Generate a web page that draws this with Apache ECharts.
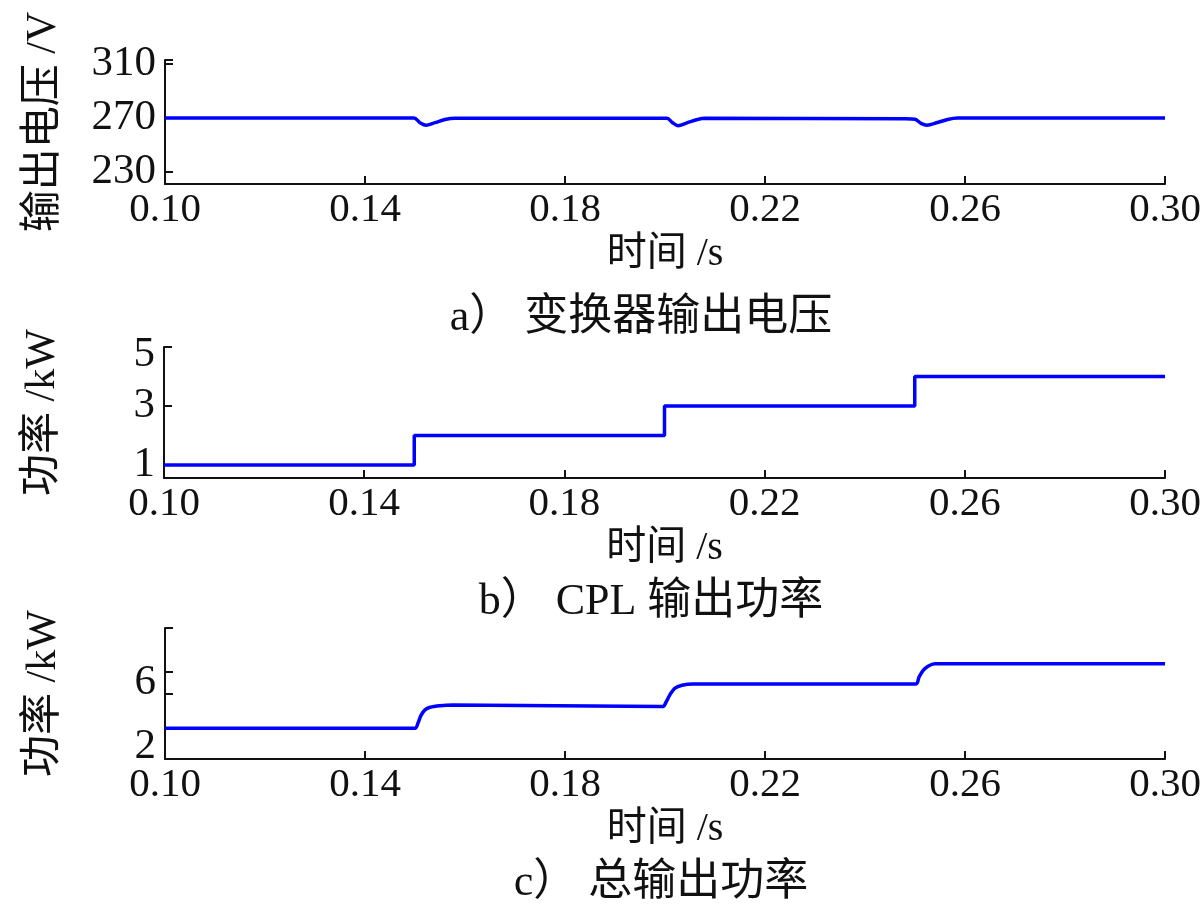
<!DOCTYPE html>
<html>
<head>
<meta charset="utf-8">
<script src="https://cdn.jsdelivr.net/npm/echarts@6/dist/echarts.min.js"></script>
<style>
html,body{margin:0;padding:0;background:#fff;}
#chart{width:1200px;height:918px;}
</style>
</head>
<body>
<div id="chart"></div>
<script>
// ---- data ----
const xTicks = [0.10, 0.14, 0.18, 0.22, 0.26, 0.30];

// a) converter output voltage (V)
const tA = [0.10, 0.1498, 0.1510, 0.1522, 0.1540, 0.1560, 0.1580, 0.2004, 0.2015, 0.2026, 0.2045, 0.2065, 0.2080, 0.2480, 0.2500, 0.2512, 0.2524, 0.2545, 0.2565, 0.2585, 0.30];
const vA = [270, 270, 266.5, 264.5, 266.5, 268.8, 269.7, 269.7, 266.5, 264.3, 266.5, 268.8, 269.7, 269.4, 269.0, 266.0, 264.6, 266.6, 268.9, 270.0, 270.0];
const yTicksA = [230, 270, 310];

// b) CPL output power (kW)
const tB = [0.10, 0.15, 0.20, 0.25, 0.30];
const pB = [1, 2, 3, 4, 4];
const yTicksB = [1, 3, 5];

// c) total output power (kW)
const tC = [0.10, 0.1500, 0.1506, 0.1512, 0.1520, 0.1530, 0.1550, 0.1575, 0.1996, 0.2002, 0.2010, 0.2020, 0.2034, 0.2056, 0.2502, 0.2508, 0.2516, 0.2526, 0.2540, 0.30];
const pC = [3.41, 3.41, 3.65, 4.0, 4.25, 4.37, 4.44, 4.47, 4.41, 4.6, 4.95, 5.25, 5.38, 5.44, 5.44, 5.75, 6.05, 6.25, 6.36, 6.36];
const yTicksC = [2, 6];

// ---- chart ----
const serif = "'Liberation Serif','Noto Sans CJK SC',serif";
const black = '#111';
function pairs(t, v){ return t.map((x,i)=>[x, v[i]]); }

function xAxisCfg(gi){
  return {
    type:'value', gridIndex:gi, min:0.10, max:0.30,
    name:'时间 /s', nameLocation:'middle', nameGap:50,
    nameTextStyle:{fontFamily:serif, fontSize:40, color:black},
    axisLine:{show:true, lineStyle:{color:black, width:2}},
    axisTick:{show:true, inside:true, length:8, lineStyle:{color:black, width:2}, customValues:xTicks},
    axisLabel:{fontFamily:serif, fontSize:41, color:black, margin:6, customValues:xTicks,
      formatter:v=>v.toFixed(2)},
    splitLine:{show:false}
  };
}
function yAxisCfg(gi, min, max, name, ticks, labels, rich, fmt){
  return {
    type:'value', gridIndex:gi, min:min, max:max,
    name:name, nameLocation:'middle', nameGap:100, nameRotate:90,
    nameTextStyle:{fontFamily:serif, fontSize:42, color:black},
    axisLine:{show:true, lineStyle:{color:black, width:2}},
    axisTick:{show:true, inside:true, length:8, lineStyle:{color:black, width:2}, customValues:ticks},
    axisLabel:{fontFamily:serif, fontSize:43, color:black, margin:9, customValues:labels,
      formatter:fmt, rich:rich},
    splitLine:{show:false}
  };
}

const labStyle = {fontFamily:serif, fontSize:43, color:black};
const option = {
  backgroundColor:'#fff',
  animation:false,
  grid:[
    {left:165, right:35, top:60, height:124, outerBoundsMode:'none', containLabel:false},
    {left:164, right:35, top:347, height:131, outerBoundsMode:'none', containLabel:false},
    {left:165, right:35, top:628, height:131, outerBoundsMode:'none', containLabel:false}
  ],
  xAxis:[xAxisCfg(0), xAxisCfg(1), xAxisCfg(2)],
  yAxis:[
    yAxisCfg(0, 221, 313, '输出电压 /V', [230,270,310,313], yTicksA, null, v=>String(v)),
    yAxisCfg(1, 0.56, 5, '功率 /kW', [1,3,5], yTicksB,
      {dn:Object.assign({padding:[16,0,0,0]}, labStyle)},
      v=> v===5 ? '{dn|5}' : String(v)),
    yAxisCfg(2, 2, 8, '功率 /kW', [5,6,8], yTicksC,
      {up:Object.assign({padding:[0,0,24,0]}, labStyle), dn:Object.assign({padding:[22,0,0,0]}, labStyle)},
      v=> v===2 ? '{up|2}' : '{dn|6}')
  ],
  series:[
    {type:'line', xAxisIndex:0, yAxisIndex:0, data:pairs(tA,vA), smooth:0.3, showSymbol:false,
      lineStyle:{color:'#0000ff', width:3.5}},
    {type:'line', xAxisIndex:1, yAxisIndex:1, data:pairs(tB,pB), step:'end', showSymbol:false,
      lineStyle:{color:'#0000ff', width:3.5}},
    {type:'line', xAxisIndex:2, yAxisIndex:2, data:pairs(tC,pC), smooth:0.3, showSymbol:false,
      lineStyle:{color:'#0000ff', width:3.5}}
  ],
  graphic:[
    {type:'text', x:641, y:318, style:{text:'a） 变换器输出电压', font:"44px "+serif, fill:black, textAlign:'center', textVerticalAlign:'middle'}},
    {type:'text', x:651, y:602, style:{text:'b） CPL 输出功率', font:"44px "+serif, fill:black, textAlign:'center', textVerticalAlign:'middle'}},
    {type:'text', x:661, y:883, style:{text:'c） 总输出功率', font:"44px "+serif, fill:black, textAlign:'center', textVerticalAlign:'middle'}}
  ]
};
const chart = echarts.init(document.getElementById('chart'), null, {renderer:'canvas'});
chart.setOption(option);
</script>
</body>
</html>
